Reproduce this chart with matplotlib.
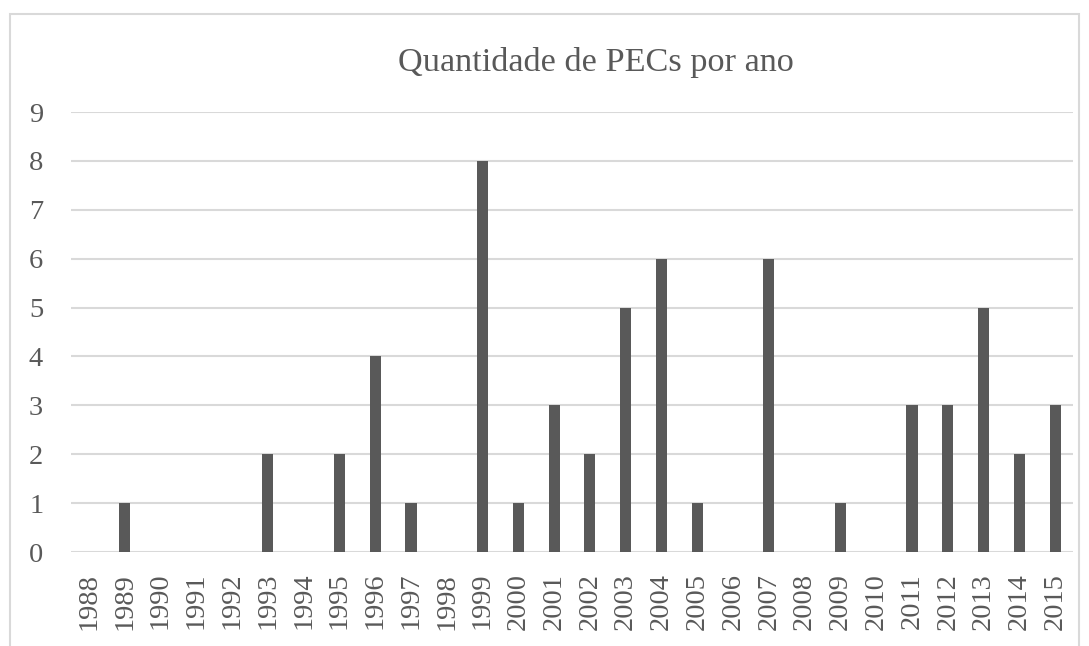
import matplotlib
matplotlib.use("Agg")
import matplotlib.pyplot as plt
from matplotlib.patches import Rectangle

anos = [str(a) for a in range(1988, 2016)]
quantidade = [0, 1, 0, 0, 0, 2, 0, 2, 4, 1, 0, 8, 1, 3, 2, 5, 6, 1, 0, 6,
              0, 1, 0, 3, 3, 5, 2, 3]

plt.rcParams['font.family'] = ['Liberation Serif', 'DejaVu Serif']
cinza = '#595959'
grade = '#d9d9d9'

fig = plt.figure(figsize=(10.89, 6.46), dpi=100)
W, H = 1089, 646
ax = fig.add_axes([71 / W, 1 - 552 / H, (1073 - 71) / W, (552 - 112) / H])

x = range(len(anos))
ax.bar(x, quantidade, width=0.31, color=cinza, zorder=3)

ax.set_xlim(-0.5, len(anos) - 0.5)
ax.set_ylim(0, 9)
ax.set_yticks(range(0, 10))
ax.set_xticks(list(x))
ax.set_xticklabels(anos, rotation=90)
ax.grid(axis='y', color=grade, linewidth=1.5, zorder=0)
ax.set_axisbelow(True)
for s in ax.spines.values():
    s.set_visible(False)
ax.tick_params(axis='both', length=0, colors=cinza, labelsize=20.5)
ax.tick_params(axis='y', pad=20)
ax.tick_params(axis='x', pad=15)

fig.text(596 / W, 1 - 62 / H, 'Quantidade de PECs por ano',
         ha='center', va='center', color=cinza, fontsize=24.7)

# moldura do gráfico
fig.patches.append(Rectangle((10 / W, -0.1), (1079 - 10) / W, 1.1 - 14 / H,
                             transform=fig.transFigure, fill=False,
                             edgecolor=grade, linewidth=1.5))

fig.savefig('out.png', dpi=100, facecolor='white')
